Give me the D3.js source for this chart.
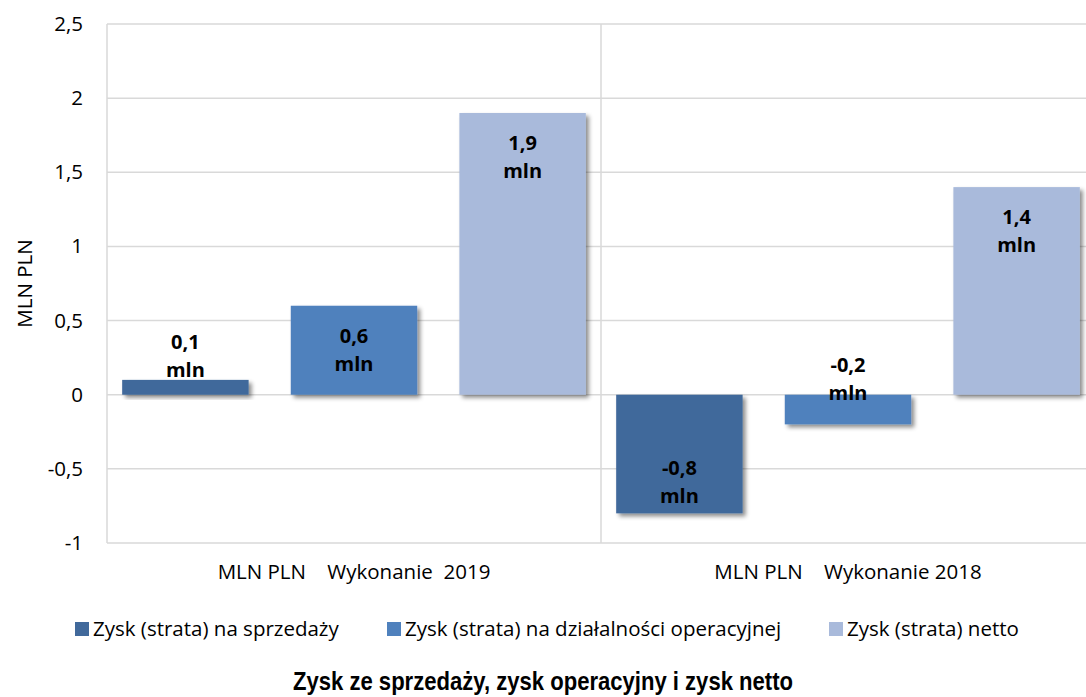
<!DOCTYPE html>
<html><head><meta charset="utf-8">
<script src="https://cdn.jsdelivr.net/npm/d3@7"></script>
<style>body{margin:0;background:#fff}svg{display:block}</style>
</head><body>
<script>
const categories = ["MLN PLN    Wykonanie  2019", "MLN PLN    Wykonanie 2018"];
const seriesNames = ["Zysk (strata) na sprzedaży", "Zysk (strata) na działalności operacyjnej", "Zysk (strata) netto"];
const salesValues = [0.1, -0.8];
const operatingValues = [0.6, -0.2];
const netValues = [1.9, 1.4];
const yTicks = [-1, -0.5, 0, 0.5, 1, 1.5, 2, 2.5];
const colors = ["#41699b", "#4f81bd", "#a9badb"];
const title = "Zysk ze sprzedaży, zysk operacyjny i zysk netto";
const yTitle = "MLN PLN";

const W = 1086, H = 697;
const m = {left: 107, right: -9, top: 24, bottom: 154};
const svg = d3.select("body").append("svg").attr("width", W).attr("height", H);
const defs = svg.append("defs");
const f = defs.append("filter").attr("id","sh").attr("x","-20%").attr("y","-20%").attr("width","150%").attr("height","150%");
f.append("feDropShadow").attr("dx",3).attr("dy",3).attr("stdDeviation",2.2).attr("flood-color","#000").attr("flood-opacity",0.45);

const x0 = d3.scaleBand().domain(categories).range([m.left, W - m.right]);
const x1 = d3.scaleBand().domain(seriesNames).range([0, x0.bandwidth()]).paddingInner(0.25).paddingOuter(0.09);
const y = d3.scaleLinear().domain([-1, 2.5]).range([H - m.bottom, m.top]);
const fmt = v => String(v).replace(".", ",");
const font = "'Open Sans', sans-serif";
const fs = 20.5;

// gridlines
const g = svg.append("g");
g.selectAll("line.grid").data(yTicks).join("line")
  .attr("x1", m.left).attr("x2", W).attr("y1", d => y(d)).attr("y2", d => y(d))
  .attr("stroke", "#d9d9d9").attr("stroke-width", 1.5);
g.append("line").attr("x1", m.left).attr("x2", m.left).attr("y1", y(2.5)).attr("y2", y(-1)).attr("stroke", "#d9d9d9").attr("stroke-width", 1.5);
g.append("line").attr("x1", x0(categories[1])).attr("x2", x0(categories[1])).attr("y1", y(2.5)).attr("y2", y(-1)).attr("stroke", "#d9d9d9").attr("stroke-width", 1.5);

// y tick labels
const yAxis = d3.axisLeft(y).tickValues(yTicks).tickFormat(fmt).tickSize(0).tickPadding(24);
const ya = svg.append("g").attr("transform", `translate(${m.left},0)`).call(yAxis);
ya.select(".domain").remove();
ya.selectAll("text").attr("font-family", font).attr("font-size", fs).attr("fill", "#000");

// category labels
const xAxis = d3.axisBottom(x0).tickSize(0).tickPadding(0);
const xa = svg.append("g").attr("transform", `translate(0,${y(-1)+21})`).call(xAxis);
xa.select(".domain").remove();
xa.selectAll("text").attr("font-family", font).attr("font-size", fs).attr("fill", "#000").attr("dy", "0.71em").style("white-space", "pre");

// bars
const rows = categories.map((c, i) => ({cat: c, vals: [salesValues[i], operatingValues[i], netValues[i]]}));
const grp = svg.selectAll("g.cat").data(rows).join("g").attr("transform", d => `translate(${x0(d.cat)},0)`);
grp.selectAll("rect").data(d => d.vals.map((v, j) => ({v, s: seriesNames[j], j}))).join("rect")
  .attr("x", d => x1(d.s)).attr("width", x1.bandwidth())
  .attr("y", d => y(Math.max(0, d.v))).attr("height", d => Math.abs(y(d.v) - y(0)))
  .attr("fill", d => colors[d.j]).attr("filter", "url(#sh)");

// labels
grp.selectAll("text.lbl").data(d => d.vals.map((v, j) => ({v, s: seriesNames[j], j}))).join("text")
  .attr("class", "lbl")
  .attr("text-anchor", "middle").attr("font-family", font).attr("font-weight", "bold").attr("font-size", 20).attr("fill", "#000")
  .each(function(d) {
    const cx = x1(d.s) + x1.bandwidth() / 2;
    let base2;
    if (Math.abs(d.v) >= 0.5) {
      base2 = d.v > 0 ? y(d.v) + 65 : y(d.v) - 10;
    } else {
      base2 = d.v > 0 ? y(d.v) - 3 : y(0) + 5;
    }
    const t = d3.select(this);
    t.append("tspan").attr("x", cx).attr("y", base2 - 28).text(fmt(d.v));
    t.append("tspan").attr("x", cx).attr("y", base2).text("mln");
  });

// y title
svg.append("text").attr("transform", `translate(32,${(y(2.5)+y(-1))/2}) rotate(-90)`)
  .attr("text-anchor", "middle").attr("font-family", font).attr("font-size", fs).text(yTitle);

// legend
const legX = [75, 387, 829];
const leg = svg.selectAll("g.leg").data(seriesNames).join("g").attr("transform", (d, i) => `translate(${legX[i]},629)`);
leg.append("rect").attr("x", 0).attr("y", -7).attr("width", 14).attr("height", 14).attr("fill", (d, i) => colors[i]);
leg.append("text").attr("x", 18).attr("y", 0).attr("dy", "0.35em").attr("font-family", font).attr("font-size", fs).text(d => d);

// title
svg.append("text").attr("x", 543).attr("y", 690).attr("text-anchor", "middle")
  .attr("font-family", "'Liberation Sans Narrow', 'Liberation Sans', Arial, sans-serif").attr("font-weight", "bold").attr("font-size", 26)
  .attr("textLength", 500).attr("lengthAdjust", "spacingAndGlyphs").text(title);
</script>
</body></html>
